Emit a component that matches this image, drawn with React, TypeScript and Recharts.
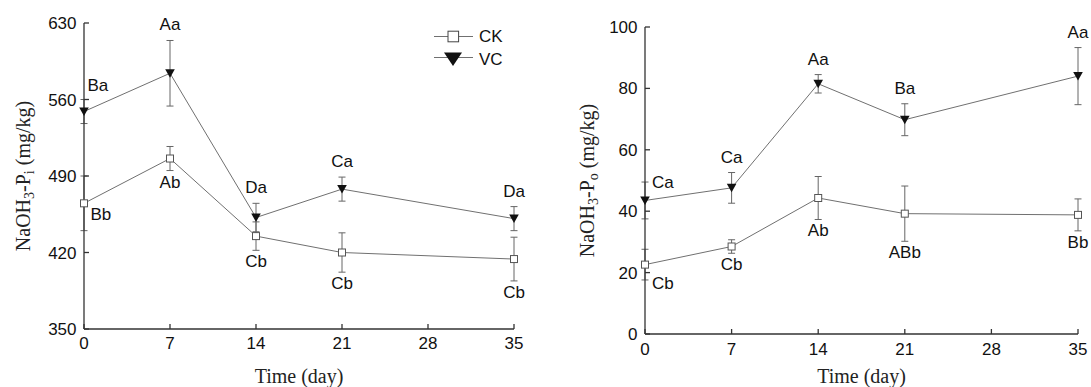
import React from 'react';
import { LineChart, Line, XAxis, YAxis, ErrorBar, ReferenceDot, Legend } from 'recharts';

const days = [0, 7, 14, 21, 35];
const dayTicks = [0, 7, 14, 21, 28, 35];

// NaOH3-Pi (mg/kg)
const piTicks = [350, 420, 490, 560, 630];
const ckPi = [465, 506, 435, 420, 414];
const ckPiErr = [25, 11, 13, 18, 20];
const vcPi = [549, 584, 452, 478, 451];
const vcPiErr = [11, 30, 13, 11, 11];
const ckPiLetters = ['Bb', 'Ab', 'Cb', 'Cb', 'Cb'];
const vcPiLetters = ['Ba', 'Aa', 'Da', 'Ca', 'Da'];

// NaOH3-Po (mg/kg)
const poTicks = [0, 20, 40, 60, 80, 100];
const ckPo = [22.6, 28.5, 44.3, 39.2, 38.8];
const ckPoErr = [5, 2.2, 7, 9, 5.2];
const vcPo = [43.5, 47.6, 81.5, 69.8, 84];
const vcPoErr = [6, 5, 3, 5.2, 9.3];
const ckPoLetters = ['Cb', 'Cb', 'Ab', 'ABb', 'Bb'];
const vcPoLetters = ['Ca', 'Ca', 'Aa', 'Ba', 'Aa'];

const sans = '"Liberation Sans", Arial, sans-serif';
const serif = '"Liberation Serif", "Times New Roman", serif';
const lineColor = '#707070';
const axisStyle = { stroke: '#333', strokeWidth: 1.3 };

const buildRows = (ck: number[], ckErr: number[], vc: number[], vcErr: number[]) =>
  days.map((d, i) => ({ day: d, ck: ck[i], ckErr: ckErr[i], vc: vc[i], vcErr: vcErr[i] }));

const piRows = buildRows(ckPi, ckPiErr, vcPi, vcPiErr);
const poRows = buildRows(ckPo, ckPoErr, vcPo, vcPoErr);

const squareDot = (p: any) => {
  if (p.cx == null || p.cy == null) return <g key={`ck-${p.index}`} />;
  return (
    <rect key={`ck-${p.index}`} x={p.cx - 3.5} y={p.cy - 3.5} width={7} height={7}
      fill="#fff" stroke="#555" strokeWidth={1} />
  );
};

const triangleDot = (p: any) => {
  if (p.cx == null || p.cy == null) return <g key={`vc-${p.index}`} />;
  const { cx, cy } = p;
  return <path key={`vc-${p.index}`} d={`M${cx - 4.8},${cy - 4} L${cx + 4.8},${cy - 4} L${cx},${cy + 4.5} Z`} fill="#111" />;
};

// letters sit above VC error bars and below CK error bars; the day-0 ones sit beside the point
const letterDots = (
  id: string, means: number[], errs: number[], letters: string[],
  side: 'top' | 'bottom', first: { dx: number; dy: number }
) =>
  days.map((d, i) => {
    const edge = i === 0;
    const y = edge ? means[i] : side === 'top' ? means[i] + errs[i] : means[i] - errs[i];
    const dx = edge ? first.dx : 0;
    const dy = edge ? first.dy : side === 'top' ? -15.5 : 11.5;
    return (
      <ReferenceDot key={`${id}-${i}`} x={d} y={y} r={1} fill="none" stroke="none"
        label={{
          content: (lp: any) => {
            const vb = lp.viewBox || {};
            const cx = vb.x + (vb.width || 0) / 2;
            const cy = vb.y + (vb.height || 0) / 2;
            return (
              <text x={cx + dx} y={cy + dy} textAnchor={edge ? 'start' : 'middle'}
                dominantBaseline="central" fontSize={17} fontFamily={sans} fill="#111">
                {letters[i]}
              </text>
            );
          },
        }}
      />
    );
  });

const yTitle = (sub: string, fromLeft: number) => (lp: any) => {
  const vb = lp.viewBox || {};
  const cx = vb.x + fromLeft;
  const cy = vb.y + vb.height / 2;
  return (
    <text x={cx} y={cy} transform={`rotate(-90, ${cx}, ${cy})`} textAnchor="middle"
      dominantBaseline="central" fontSize={20} fontFamily={serif} fill="#222">
      NaOH<tspan fontSize={14} dy={6}>3</tspan>
      <tspan dy={-6}>-P</tspan>
      <tspan fontSize={14} dy={6}>{sub}</tspan>
      <tspan dy={-6}> (mg/kg)</tspan>
    </text>
  );
};

const legendItems = [
  { name: 'CK', marker: 'square' },
  { name: 'VC', marker: 'triangle' },
];

const renderLegend = () => (
  <svg width={100} height={48}>
    {legendItems.map((it, i) => {
      const y = 12.5 + i * 22.5;
      return (
        <g key={it.name}>
          <line x1={9} x2={48} y1={it.marker === 'square' ? y : y - 1.5} y2={it.marker === 'square' ? y : y - 1.5}
            stroke={lineColor} strokeWidth={1} />
          {it.marker === 'square' ? (
            <rect x={23} y={y - 5.3} width={10.6} height={10.6} fill="#fff" stroke="#444" strokeWidth={1} />
          ) : (
            <path d={`M${19},${y - 6.5} L${37},${y - 6.5} L${28},${y + 7} Z`} fill="#111" />
          )}
          <text x={54} y={y} dominantBaseline="central" fontSize={17} fontFamily={sans} fill="#111">
            {it.name}
          </text>
        </g>
      );
    })}
  </svg>
);

const tickStyle = { fill: '#111', fontSize: 17, fontFamily: sans };

export default function App() {
  return (
    <div style={{ position: 'absolute', left: 0, top: 0, width: 1091, height: 387, background: '#fff' }}>
      <div style={{ position: 'absolute', left: 0, top: 0 }}>
        <LineChart width={560} height={387} data={piRows} margin={{ top: 23, right: 46, bottom: 0, left: 0 }}>
          <XAxis dataKey="day" type="number" domain={[0, 35]} ticks={dayTicks} interval={0}
            tickSize={-5} tickMargin={13} axisLine={axisStyle} tickLine={axisStyle} tick={tickStyle} height={58}
            label={{ value: 'Time (day)', position: 'insideBottom', offset: 4, fill: '#222', fontSize: 20, fontFamily: serif }} />
          <YAxis type="number" domain={[350, 630]} ticks={piTicks} interval={0} width={84}
            tickSize={-5} tickMargin={12.5} axisLine={axisStyle} tickLine={axisStyle} tick={tickStyle}
            label={{ content: yTitle('i', 23) }} />
          <Legend layout="horizontal" verticalAlign="middle" align="center" content={renderLegend}
            wrapperStyle={{ left: 425, top: 24, width: 100, height: 48 }} />
          <Line dataKey="ck" name="CK" stroke={lineColor} strokeWidth={1} dot={squareDot} activeDot={false} isAnimationActive={false}>
            <ErrorBar dataKey="ckErr" direction="y" width={3.5} stroke="#666" strokeWidth={1} />
          </Line>
          <Line dataKey="vc" name="VC" stroke={lineColor} strokeWidth={1} dot={triangleDot} activeDot={false} isAnimationActive={false}>
            <ErrorBar dataKey="vcErr" direction="y" width={3.5} stroke="#666" strokeWidth={1} />
          </Line>
          {letterDots('vcpi', vcPi, vcPiErr, vcPiLetters, 'top', { dx: 3.5, dy: -26 })}
          {letterDots('ckpi', ckPi, ckPiErr, ckPiLetters, 'bottom', { dx: 6.5, dy: 11 })}
        </LineChart>
      </div>
      <div style={{ position: 'absolute', left: 560, top: 0 }}>
        <LineChart width={531} height={387} data={poRows} margin={{ top: 27, right: 13, bottom: 0, left: 0 }}>
          <XAxis dataKey="day" type="number" domain={[0, 35]} ticks={dayTicks} interval={0}
            tickSize={-5} tickMargin={14} axisLine={axisStyle} tickLine={axisStyle} tick={tickStyle} height={53}
            label={{ value: 'Time (day)', position: 'insideBottom', offset: 4, fill: '#222', fontSize: 20, fontFamily: serif }} />
          <YAxis type="number" domain={[0, 100]} ticks={poTicks} interval={0} width={85}
            tickSize={-5} tickMargin={12.5} axisLine={axisStyle} tickLine={axisStyle} tick={tickStyle}
            label={{ content: yTitle('o', 27) }} />
          <Line dataKey="ck" name="CK" stroke={lineColor} strokeWidth={1} dot={squareDot} activeDot={false} isAnimationActive={false}>
            <ErrorBar dataKey="ckErr" direction="y" width={3.5} stroke="#666" strokeWidth={1} />
          </Line>
          <Line dataKey="vc" name="VC" stroke={lineColor} strokeWidth={1} dot={triangleDot} activeDot={false} isAnimationActive={false}>
            <ErrorBar dataKey="vcErr" direction="y" width={3.5} stroke="#666" strokeWidth={1} />
          </Line>
          {letterDots('vcpo', vcPo, vcPoErr, vcPoLetters, 'top', { dx: 7, dy: -18 })}
          {letterDots('ckpo', ckPo, ckPoErr, ckPoLetters, 'bottom', { dx: 7, dy: 19 })}
        </LineChart>
      </div>
    </div>
  );
}
